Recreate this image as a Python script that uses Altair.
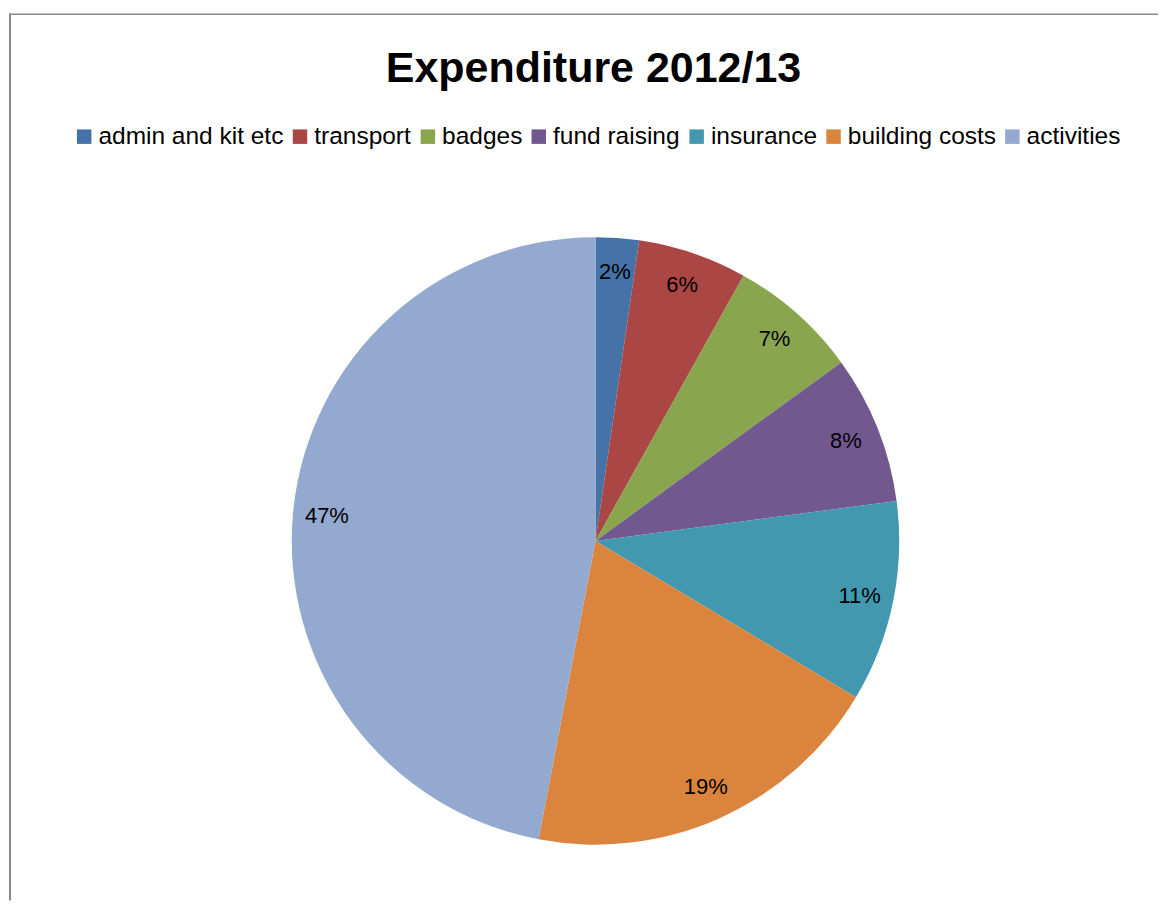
import altair as alt
import pandas as pd

categories = ["admin and kit etc", "transport", "badges", "fund raising",
              "insurance", "building costs", "activities"]
values = [2.3, 5.8, 6.9, 7.9, 10.7, 19.4, 47.0]
labels = ["2%", "6%", "7%", "8%", "11%", "19%", "47%"]
colors = ["#4572A7", "#AA4643", "#89A54E", "#71588F", "#4198AF", "#DB843D", "#93A9CF"]

df = pd.DataFrame({"category": categories, "value": values,
                   "label": labels, "idx": list(range(len(categories)))})

FONT = "Liberation Sans"
W, H = 1150, 888
CX, CY = 587, 528

base = alt.Chart(df).encode(
    theta=alt.Theta("value:Q", stack=True),
    order=alt.Order("idx:Q"),
)

pie = base.mark_arc(outerRadius=304).encode(
    x=alt.value(CX), y=alt.value(CY),
    color=alt.Color(
        "category:N",
        scale=alt.Scale(domain=categories, range=colors),
        sort=categories,
        legend=alt.Legend(
            title=None, orient="none", direction="horizontal", columns=7,
            legendX=63, legendY=111, padding=0,
            symbolType="square", symbolSize=210, symbolStrokeWidth=0,
            labelFont=FONT, labelFontSize=24.5, labelColor="black",
            labelOffset=2, columnPadding=4, labelLimit=400,
        ),
    ),
)

text = base.mark_text(radius=270, font=FONT, fontSize=22, color="black").encode(
    x=alt.value(CX), y=alt.value(CY),
    text="label:N",
)

frame_df = pd.DataFrame({"edge": ["frame"]})
top_line = alt.Chart(frame_df).mark_rule(color="#8a8a8a", strokeWidth=1.5).encode(
    x=alt.value(0), x2=alt.value(W), y=alt.value(0.75))
left_line = alt.Chart(frame_df).mark_rule(color="#8a8a8a", strokeWidth=2).encode(
    x=alt.value(1), y=alt.value(0), y2=alt.value(H))

chart = (top_line + left_line + pie + text).properties(
    width=W, height=H,
    padding={"left": 0, "top": 4, "right": 0, "bottom": 0},
    title=alt.TitleParams(
        "Expenditure 2012/13", font=FONT, fontSize=43,
        fontWeight="bold", color="black", anchor="middle",
        offset=-79, dx=10,
    ),
).configure_view(stroke=None)

chart.save("out.html", embed_options={"renderer": "svg", "actions": False})
